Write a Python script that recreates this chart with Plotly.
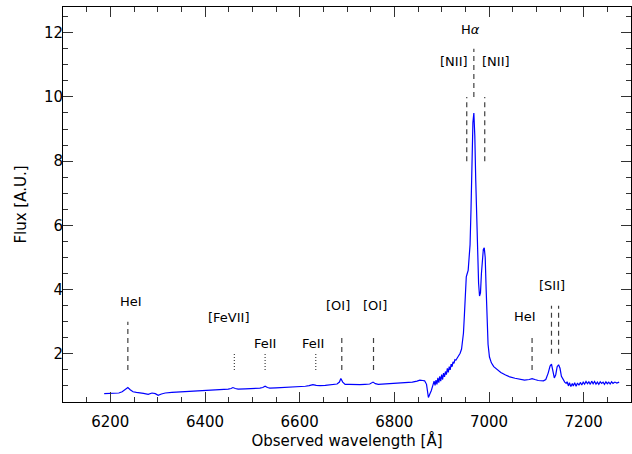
import plotly.graph_objects as go

# Spectrum (observed wavelength in Angstrom, flux in arbitrary units)
wavelength = [6187, 6200, 6210, 6218, 6225, 6231, 6237, 6242, 6248, 6255, 6263, 6270, 6280, 6288, 6295, 6301, 6308, 6316,
              6330, 6345, 6358, 6368, 6380, 6395, 6411, 6425, 6438, 6449, 6455, 6459, 6464, 6470, 6485, 6496, 6506, 6516,
              6522, 6527, 6532, 6537, 6550, 6565, 6580, 6590, 6601, 6612, 6620, 6628, 6635, 6643, 6654, 6664, 6672, 6679,
              6684, 6687, 6691, 6696, 6705, 6715, 6727, 6738, 6748, 6755, 6760, 6766, 6780, 6795, 6812, 6825, 6838, 6848,
              6854, 6860, 6864, 6868, 6872, 6875, 6878, 6882, 6884, 6886, 6888, 6890, 6892, 6894, 6896, 6898, 6900, 6902,
              6904, 6906, 6908, 6910, 6912, 6914, 6916, 6918, 6920, 6922, 6924, 6926, 6928, 6930, 6933, 6936, 6939, 6942,
              6944, 6946, 6948, 6950, 6952, 6954, 6956, 6958, 6960, 6962, 6964, 6966, 6968, 6970, 6972, 6974, 6976, 6978,
              6980, 6982, 6984, 6986, 6988, 6990, 6992, 6994, 6996, 6998, 7001, 7005, 7010, 7016, 7025, 7035, 7044, 7055,
              7065, 7075, 7085, 7091, 7097, 7104, 7115, 7120, 7125, 7129, 7132, 7135, 7138, 7141, 7144, 7147, 7150, 7153,
              7157, 7160, 7163, 7165, 7168, 7170, 7173, 7176, 7178, 7181, 7184, 7187, 7190, 7193, 7196, 7199, 7202, 7205,
              7208, 7211, 7214, 7217, 7220, 7223, 7226, 7229, 7232, 7235, 7238, 7241, 7244, 7247, 7250, 7253, 7256, 7259,
              7262, 7266, 7270, 7275]
flux = [0.76, 0.77, 0.76, 0.78, 0.82, 0.88, 0.95, 0.88, 0.82, 0.80, 0.79, 0.77, 0.74, 0.78, 0.76, 0.71, 0.75, 0.78,
        0.80, 0.81, 0.83, 0.84, 0.83, 0.85, 0.87, 0.87, 0.89, 0.90, 0.92, 0.95, 0.92, 0.90, 0.91, 0.91, 0.92, 0.93,
        0.95, 0.99, 0.95, 0.93, 0.94, 0.95, 0.95, 0.97, 0.98, 0.99, 1.01, 1.04, 1.02, 1.01, 1.02, 1.03, 1.04, 1.06,
        1.12, 1.23, 1.12, 1.05, 1.05, 1.04, 1.04, 1.05, 1.06, 1.12, 1.07, 1.05, 1.06, 1.07, 1.08, 1.10, 1.12, 1.15,
        1.18, 1.17, 1.16, 1.05, 0.64, 0.75, 0.85, 1.05, 1.15, 1.02, 1.18, 1.05, 1.25, 1.10, 1.30, 1.15, 1.35, 1.20,
        1.40, 1.28, 1.45, 1.35, 1.55, 1.42, 1.60, 1.50, 1.68, 1.60, 1.75, 1.70, 1.82, 1.80, 1.88, 1.95, 2.02, 2.15,
        2.35, 2.64, 3.20, 4.00, 4.40, 4.50, 4.60, 5.00, 5.40, 6.50, 8.00, 9.20, 9.50, 8.80, 7.40, 6.20, 5.00, 4.20,
        3.80, 3.90, 4.50, 5.00, 5.25, 5.30, 5.00, 4.00, 3.00, 2.30, 1.90, 1.72, 1.60, 1.52, 1.42, 1.34, 1.28, 1.24,
        1.20, 1.18, 1.20, 1.23, 1.20, 1.17, 1.16, 1.20, 1.40, 1.62, 1.68, 1.50, 1.25, 1.35, 1.60, 1.66, 1.55, 1.30,
        1.18, 1.12, 1.08, 1.13, 1.00, 1.10, 0.98, 1.08, 1.00, 1.10, 0.99, 1.09, 1.02, 1.11, 1.03, 1.12, 1.06, 1.14,
        1.07, 1.13, 1.05, 1.15, 1.07, 1.14, 1.06, 1.12, 1.05, 1.13, 1.08, 1.12, 1.05, 1.13, 1.07, 1.12, 1.06, 1.13,
        1.08, 1.12, 1.09, 1.12]

# Line markers
marker_wl = [6237, 6462, 6527, 6634, 6689, 6756, 6968, 6953, 6991, 7091, 7132, 7147]
marker_y0 = [1.5, 1.5, 1.5, 1.5, 1.5, 1.5, 10.0, 8.0, 8.0, 1.5, 2.0, 2.0]
marker_y1 = [3.0, 2.0, 2.0, 2.0, 2.5, 2.5, 11.5, 10.0, 10.0, 2.55, 3.5, 3.5]
marker_dash = ["5px,4px", "1px,2px", "1px,2px", "1px,2px", "5px,4px", "5px,4px",
               "5px,4px", "5px,4px", "5px,4px", "5px,4px", "5px,4px", "5px,4px"]

# Line labels
label_text = ["HeI", "[FeVII]", "FeII", "FeII", "[OI]", "[OI]", "H<i>α</i>", "[NII]", "[NII]", "HeI", "[SII]"]
label_wl = [6243, 6449, 6527, 6628, 6680, 6759, 6960, 6925, 7015, 7076, 7133]
label_y = [3.62, 3.12, 2.32, 2.32, 3.49, 3.49, 12.1, 11.1, 11.1, 3.15, 4.14]

FONT = "DejaVu Sans"

fig = go.Figure()
fig.add_trace(go.Scatter(x=wavelength, y=flux, mode="lines",
                         line=dict(color="#0000ff", width=1.2), showlegend=False,
                         hoverinfo="skip"))

for wl, y0, y1, d in zip(marker_wl, marker_y0, marker_y1, marker_dash):
    fig.add_shape(type="line", xref="x", yref="y", x0=wl, x1=wl, y0=y0, y1=y1,
                  line=dict(color="#404040", width=1.2, dash=d))

for t, wl, y in zip(label_text, label_wl, label_y):
    fig.add_annotation(x=wl, y=y, xref="x", yref="y", text=t, showarrow=False,
                       xanchor="center", yanchor="middle",
                       font=dict(family=FONT, size=13, color="black"))

axis_common = dict(showline=True, linecolor="black", linewidth=1, mirror="allticks",
                   ticks="inside", ticklen=10, tickcolor="#333333", tickwidth=1,
                   showgrid=False, zeroline=False,
                   tickfont=dict(family=FONT, size=15, color="black"))

fig.update_xaxes(range=[6100, 7300], tick0=6200, dtick=200, ticklabelstandoff=6,
                 minor=dict(dtick=50, ticklen=5, ticks="inside", tickcolor="#333333", showgrid=False),
                 title=dict(text="Observed wavelength [Å]", font=dict(family=FONT, size=15, color="black"),
                            standoff=4),
                 **axis_common)
fig.update_yaxes(range=[0.5, 12.8], tick0=0, dtick=2, ticklabelstandoff=-4,
                 minor=dict(dtick=0.5, ticklen=5, ticks="inside", tickcolor="#333333", showgrid=False),
                 title=dict(text="Flux [A.U.]", font=dict(family=FONT, size=15, color="black"),
                            standoff=13),
                 **axis_common)

fig.update_layout(width=632, height=454, margin=dict(l=63, r=1, t=7, b=52),
                  plot_bgcolor="white", paper_bgcolor="white", showlegend=False)

fig.write_html("out.html")
